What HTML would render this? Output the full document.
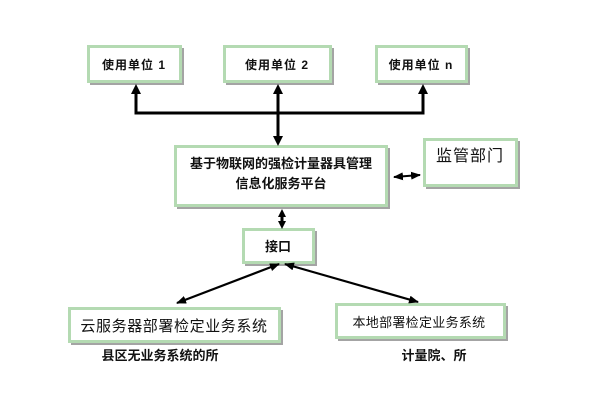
<!DOCTYPE html>
<html><head><meta charset="utf-8"><style>
html,body{margin:0;padding:0;background:#fff;}
svg{display:block;}
text{font-family:"Liberation Sans","Noto Sans CJK SC",sans-serif;fill:#111;}
</style></head><body>
<svg width="600" height="400" viewBox="0 0 600 400" xmlns="http://www.w3.org/2000/svg">
<defs>
<marker id="ahs" markerWidth="10" markerHeight="8" refX="9" refY="4" orient="auto-start-reverse" markerUnits="userSpaceOnUse">
<path d="M0,0 L10,4 L0,8 z" fill="#000"/></marker>
</defs>
<!-- shadows -->
<g fill="#a4a4a4">
<rect x="90" y="48" width="94" height="37"/>
<rect x="226" y="48" width="108" height="37"/>
<rect x="378" y="48" width="92" height="37"/>
<rect x="177" y="148" width="213" height="61"/>
<rect x="426" y="141" width="94" height="48"/>
<rect x="245" y="231" width="72" height="35"/>
<rect x="71" y="310" width="212" height="35"/>
<rect x="338" y="306" width="170" height="35"/>
</g>
<!-- boxes -->
<g fill="#fff" stroke="#b4dab2" stroke-width="3">
<rect x="88.5" y="46.5" width="92" height="35"/>
<rect x="224.5" y="46.5" width="106" height="35"/>
<rect x="376.5" y="46.5" width="90" height="35"/>
<rect x="175.5" y="146.5" width="211" height="59"/>
<rect x="424.5" y="139.5" width="92" height="46"/>
<rect x="243.5" y="229.5" width="70" height="33"/>
<rect x="69.5" y="308.5" width="210" height="33"/>
<rect x="336.5" y="304.5" width="168" height="33"/>
</g>
<!-- connectors -->
<g stroke="#000" stroke-width="3" fill="none">
<polyline points="136,92 136,113 423,113 423,92"/>
<line x1="278" y1="92" x2="278" y2="138"/>
</g>
<g fill="#000">
<path d="M131,94 L141,94 L136,84 z"/>
<path d="M273,94 L283,94 L278,84 z"/>
<path d="M418,94 L428,94 L423,84 z"/>
<path d="M273,136 L283,136 L278,146 z"/>
<path d="M278,217 L286,217 L282,209 z"/>
<path d="M278,221 L286,221 L282,229 z"/>
</g>
<line x1="282" y1="215" x2="282" y2="223" stroke="#000" stroke-width="3"/>
<line x1="394" y1="177" x2="420" y2="175" stroke="#000" stroke-width="2" marker-start="url(#ahs)" marker-end="url(#ahs)"/>
<line x1="279" y1="264" x2="177" y2="303" stroke="#000" stroke-width="2.2" marker-start="url(#ahs)" marker-end="url(#ahs)"/>
<line x1="285" y1="264" x2="418" y2="302" stroke="#000" stroke-width="2.2" marker-start="url(#ahs)" marker-end="url(#ahs)"/>
<!-- texts -->
<g font-size="12" font-weight="bold" text-anchor="middle">
<text x="134" y="69" letter-spacing="1">使用单位 1</text>
<text x="277" y="69" letter-spacing="1">使用单位 2</text>
<text x="421" y="69" letter-spacing="1">使用单位 n</text>
</g>
<g font-size="13" font-weight="bold" text-anchor="middle">
<text x="281" y="168">基于物联网的强检计量器具管理</text>
<text x="281" y="188">信息化服务平台</text>
<text x="278" y="251">接口</text>
</g>
<text x="470" y="161" font-size="16" text-anchor="middle" letter-spacing="1">监管部门</text>
<text x="174" y="331" font-size="15" text-anchor="middle" letter-spacing="0.6">云服务器部署检定业务系统</text>
<text x="419" y="327" font-size="13" text-anchor="middle" letter-spacing="0.3">本地部署检定业务系统</text>
<text x="160" y="360" font-size="13" font-weight="bold" text-anchor="middle">县区无业务系统的所</text>
<text x="434" y="360" font-size="13" font-weight="bold" text-anchor="middle">计量院、所</text>
</svg>
</body></html>
